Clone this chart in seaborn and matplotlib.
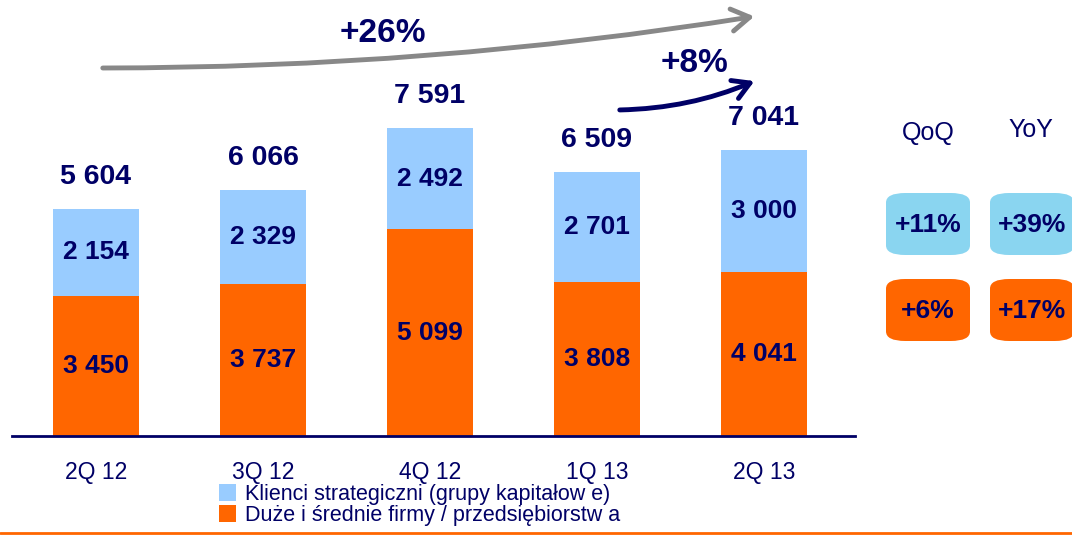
import matplotlib
matplotlib.use("Agg")
import matplotlib.pyplot as plt
import seaborn as sns
import pandas as pd
from matplotlib.patches import FancyBboxPatch, Patch, FancyArrowPatch
from matplotlib.lines import Line2D

sns.set_style("white")
plt.rcParams['font.family'] = ['Liberation Sans', 'DejaVu Sans']

quarters = ["2Q 12", "3Q 12", "4Q 12", "1Q 13", "2Q 13"]
strategic = [2154, 2329, 2492, 2701, 3000]
large_medium = [3450, 3737, 5099, 3808, 4041]
totals = [5604, 6066, 7591, 6509, 7041]
legend_labels = ["Klienci strategiczni (grupy kapitałow e)",
                 "Duże i średnie firmy / przedsiębiorstw a"]
growth_all = "+26%"
growth_qoq_total = "+8%"
box_headers = ["QoQ", "YoY"]
box_strategic = ["+11%", "+39%"]
box_large = ["+6%", "+17%"]

NAVY = "#000066"
BLUE = "#99CCFF"
ORANGE = "#FF6600"
BOXBLUE = "#8AD5F0"

W, H = 1072, 535
fig = plt.figure(figsize=(W / 100, H / 100), dpi=100)
ax = fig.add_axes([12 / W, (H - 436) / H, 843 / W, 436 / H])

df = pd.DataFrame({"quarter": quarters, "strategic": strategic,
                   "large": large_medium, "total": totals})

sns.barplot(data=df, x="quarter", y="total", color=BLUE, width=0.515,
            saturation=1, ax=ax, edgecolor="none")
sns.barplot(data=df, x="quarter", y="large", color=ORANGE, width=0.515,
            saturation=1, ax=ax, edgecolor="none")

ax.set_xlim(-0.503, 4.545)
ax.set_ylim(0, 10747)
ax.set_xlabel("")
ax.set_ylabel("")
ax.set_yticks([])
for s in ["left", "top", "right"]:
    ax.spines[s].set_visible(False)
ax.spines["bottom"].set_color(NAVY)
ax.spines["bottom"].set_linewidth(2)
ax.tick_params(axis="x", length=0, pad=18, labelsize=16.5, labelcolor=NAVY)

for i in range(len(quarters)):
    ax.annotate(f"{totals[i]:,}".replace(",", " "), (i, totals[i]),
                xytext=(0, 23), textcoords="offset points", ha="center",
                va="center", fontsize=20.5, fontweight="bold", color=NAVY)
    ax.text(i, large_medium[i] + strategic[i] / 2,
            f"{strategic[i]:,}".replace(",", " "), ha="center", va="center",
            fontsize=19, fontweight="bold", color=NAVY)
    ax.text(i, large_medium[i] / 2,
            f"{large_medium[i]:,}".replace(",", " "), ha="center", va="center",
            fontsize=19, fontweight="bold", color=NAVY)

def fx(x):
    return x / W

def fy(y):
    return 1 - y / H

# growth arrows
fig.add_artist(FancyArrowPatch(
    (fx(100), fy(68)), (fx(757), fy(16)), transform=fig.transFigure,
    connectionstyle="arc3,rad=0.04",
    arrowstyle="->,head_length=13,head_width=8", color="#888888", lw=3.5,
    mutation_scale=1))
fig.text(fx(383), fy(34), growth_all, ha="center", va="center",
         fontsize=24, fontweight="bold", color=NAVY)
fig.add_artist(FancyArrowPatch(
    (fx(617), fy(110)), (fx(757), fy(80)), transform=fig.transFigure,
    connectionstyle="arc3,rad=0.1",
    arrowstyle="->,head_length=12,head_width=7", color=NAVY, lw=3.5,
    mutation_scale=1))
fig.text(fx(694), fy(63), growth_qoq_total, ha="center", va="center",
         fontsize=24, fontweight="bold", color=NAVY)

# QoQ / YoY boxes
col_x = [928, 1031]
head_y = [133, 130]
for j in range(2):
    fig.text(fx(col_x[j]), fy(head_y[j]), box_headers[j], ha="center",
             va="center", fontsize=18, color=NAVY)
box_left = [886, 990]
for j in range(2):
    for (top, bot, col, lab) in [(193, 255, BOXBLUE, box_strategic[j]),
                                 (279, 341, ORANGE, box_large[j])]:
        bw = 84
        bh = bot - top
        p = FancyBboxPatch((fx(box_left[j]), fy(bot)), fx(bw), bh / H,
                           boxstyle="round,pad=0,rounding_size=0.018",
                           transform=fig.transFigure, facecolor=col,
                           edgecolor="none", mutation_aspect=H / W * 2)
        fig.add_artist(p)
        fig.text(fx(box_left[j] + bw / 2), fy((top + bot) / 2 + 1), lab,
                 ha="center", va="center", fontsize=19, fontweight="bold",
                 color=NAVY)

# legend
handles = [Patch(facecolor=BLUE, edgecolor="none"),
           Patch(facecolor=ORANGE, edgecolor="none")]
fig.legend(handles, legend_labels, loc="upper left",
           bbox_to_anchor=(fx(219), fy(484)), frameon=False,
           fontsize=15.5, labelcolor=NAVY, handlelength=0.8,
           handleheight=0.8, handletextpad=0.4, labelspacing=0.0,
           borderpad=0, borderaxespad=0)

# bottom orange rule
fig.add_artist(Line2D([0, 1], [fy(533), fy(533)], transform=fig.transFigure,
                      color=ORANGE, lw=2))

fig.savefig("out.png", dpi=100)
